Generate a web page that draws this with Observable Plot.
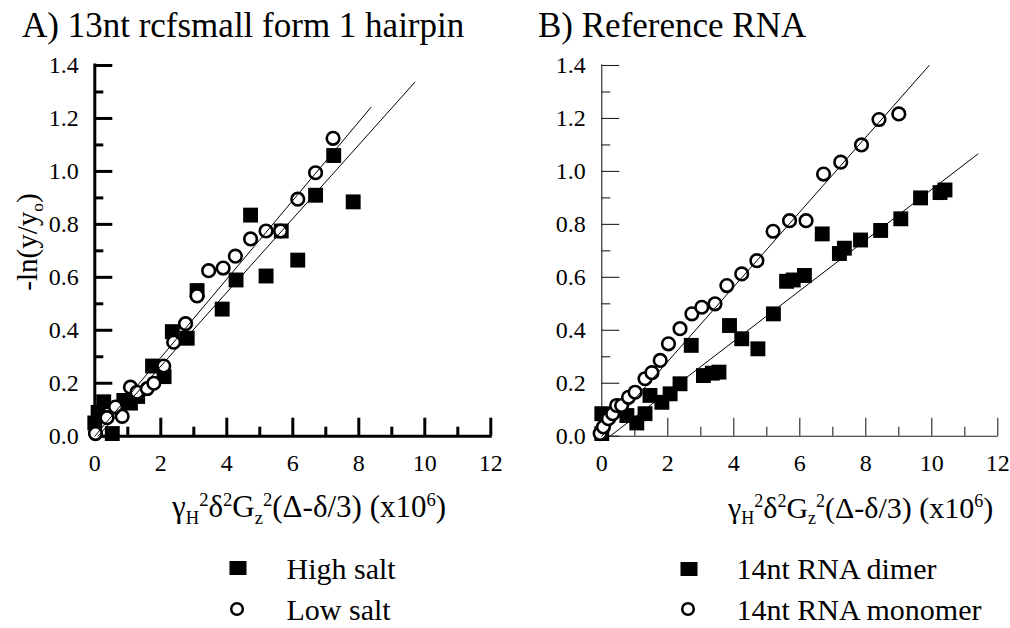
<!DOCTYPE html>
<html><head><meta charset="utf-8">
<script src="https://cdn.jsdelivr.net/npm/d3@7"></script>
<script src="https://cdn.jsdelivr.net/npm/@observablehq/plot@0.6"></script>
<style>
body{margin:0;background:#fff;}
#wrap{position:relative;width:1010px;height:628px;font-family:"Liberation Serif","Times New Roman",serif;color:#000;overflow:hidden;background:#fff}
.abs{position:absolute;white-space:nowrap;line-height:1}
.sup,.sub{position:relative;font-size:0.6em;vertical-align:baseline}
.sup{top:-0.62em}
.sub{top:0.35em}
.plot{position:absolute;top:0}
</style></head><body><div id="wrap"></div>
<script>
// ---- data ----
const xTicks = [0, 2, 4, 6, 8, 10, 12];
const xMinor = [1, 3, 5, 7, 9, 11];
const yTicks = [0, 0.2, 0.4, 0.6, 0.8, 1.0, 1.2, 1.4];
const yMinor = [0.1, 0.3, 0.5, 0.7, 0.9, 1.1, 1.3];

// Panel A: 13nt rcfsmall form 1 hairpin
const highSalt = [[0,0.05],[0.1,0.09],[0.27,0.13],[0.53,0.01],[0.88,0.135],[1.08,0.125],[1.3,0.15],
  [1.75,0.265],[2.1,0.225],[2.35,0.395],[2.8,0.37],[3.1,0.55],[3.86,0.48],[4.28,0.59],[4.72,0.835],
  [5.19,0.605],[5.65,0.775],[6.15,0.665],[6.69,0.91],[7.24,1.06],[7.83,0.885]];
const lowSalt = [[0.02,0.01],[0.37,0.07],[0.63,0.11],[0.83,0.075],[1.08,0.185],[1.28,0.166],[1.59,0.18],
  [1.79,0.2],[2.09,0.265],[2.39,0.355],[2.75,0.425],[3.1,0.53],[3.45,0.625],[3.89,0.635],[4.26,0.68],
  [4.72,0.745],[5.19,0.775],[5.63,0.775],[6.15,0.895],[6.69,0.995],[7.22,1.125]];
const fitLowSaltA = [[0,0],[8.37,1.242]];
const fitHighSaltA = [[0.1,0],[9.7,1.337]];

// Panel B: Reference RNA
const dimer = [[0,0.01],[0,0.085],[0.76,0.078],[1.06,0.05],[1.31,0.085],[1.46,0.154],[1.82,0.128],
  [2.07,0.16],[2.37,0.198],[2.71,0.343],[3.08,0.229],[3.35,0.238],[3.55,0.242],[3.87,0.418],
  [4.24,0.368],[4.73,0.33],[5.2,0.462],[5.6,0.585],[5.8,0.59],[6.14,0.607],[6.68,0.764],
  [7.2,0.69],[7.35,0.71],[7.84,0.741],[8.45,0.777],[9.06,0.821],[9.66,0.9],[10.25,0.92],[10.4,0.93]];
const monomer = [[-0.05,0.01],[0.05,0.035],[0.2,0.066],[0.33,0.085],[0.45,0.116],[0.6,0.116],
  [0.81,0.147],[1.01,0.166],[1.31,0.217],[1.52,0.24],[1.77,0.286],[2.02,0.349],[2.37,0.406],
  [2.73,0.462],[3.03,0.487],[3.43,0.5],[3.79,0.569],[4.24,0.613],[4.7,0.663],[5.19,0.774],
  [5.69,0.814],[6.19,0.814],[6.72,0.99],[7.24,1.035],[7.87,1.1],[8.4,1.196],[9.0,1.217]];
const fitMonomerB = [[0,0],[9.92,1.4]];
const fitDimerB = [[0.25,0],[11.4,1.066]];

const wrap = document.getElementById("wrap");

function panel({left, squares, circles, fits, thick}) {
  const W = 505, H = 480, mL = 94.3, mT = 65, frameW = 396, frameH = 370.7;
  const sw = thick ? 3 : 1.1, col = thick ? "#000" : "#222";
  const font = {fontFamily: "Liberation Serif", fontSize: 24, fill: "#000"};
  const svg = Plot.plot({
    width: W, height: H,
    marginLeft: mL, marginRight: W - mL - frameW, marginTop: mT, marginBottom: H - mT - frameH,
    x: {domain: [0, 12]}, y: {domain: [0, 1.4]},
    style: {fontFamily: "Liberation Serif", fontSize: "24px", color: "#000", background: "transparent", overflow: "visible"},
    marks: [
      Plot.ruleX([0], {stroke: col, strokeWidth: sw, strokeLinecap: "square"}),
      Plot.ruleY([0], {stroke: col, strokeWidth: sw, strokeLinecap: "square"}),
      Plot.tickX(xTicks, {x: d => d, insetTop: frameH - 18, stroke: col, strokeWidth: sw}),
      Plot.tickX(xMinor, {x: d => d, insetTop: frameH - 9, stroke: col, strokeWidth: sw}),
      Plot.tickY(yTicks, {y: d => d, insetRight: frameW - 18, stroke: col, strokeWidth: sw}),
      Plot.tickY(yMinor, {y: d => d, insetRight: frameW - 9, stroke: col, strokeWidth: sw}),
      Plot.axisX(xTicks, {tickSize: 0, tickPadding: 18, tickFormat: d => d, label: null, ...font}),
      Plot.axisY(yTicks, {tickSize: 0, tickPadding: 16, tickFormat: d3.format(".1f"), label: null, ...font}),
      Plot.dot(squares, {x: d => d[0], y: d => d[1], symbol: "square", r: 8.4, fill: "#000", stroke: "none"}),
      Plot.dot(circles, {x: d => d[0], y: d => d[1], r: 6.3, fill: "#fff", stroke: "#000", strokeWidth: 2.6}),
      ...fits.map(f => Plot.line(f, {x: d => d[0], y: d => d[1], stroke: "#000", strokeWidth: 1}))
    ]
  });
  svg.classList.add("plot");
  svg.style.left = left + "px";
  wrap.appendChild(svg);
}

panel({left: 0, squares: highSalt, circles: lowSalt, fits: [fitLowSaltA, fitHighSaltA], thick: true});
panel({left: 507.4, squares: dimer, circles: monomer, fits: [fitMonomerB, fitDimerB], thick: false});

// place text by its baseline; lh = line-height in em
function text(html, x, baseline, fs, lh = 1) {
  const d = document.createElement("div");
  d.className = "abs";
  d.style.fontSize = fs + "px";
  d.style.lineHeight = lh;
  d.style.left = x + "px";
  d.style.top = (baseline - fs * (lh / 2 + 0.3375)) + "px";
  d.innerHTML = html;
  wrap.appendChild(d);
  return d;
}

text("A) 13nt rcfsmall form 1 hairpin", 22, 37, 35);
text("B) Reference RNA", 538, 37, 35);

const xTitle = 'γ<span class="sub">H</span><span class="sup">2</span>δ<span class="sup">2</span>G<span class="sub">z</span><span class="sup">2</span>(Δ-δ/3) (x10<span class="sup">6</span>)';
text(xTitle, 172, 518, 31, 0.85);
text(xTitle, 728, 518, 30, 0.85);

// y-axis label (rotated)
const yl = document.createElement("div");
yl.className = "abs";
yl.style.cssText += "font-size:29px;left:27px;top:242px;transform:translate(-50%,-50%) rotate(-90deg);";
yl.innerHTML = '-ln(y/y<span class="sub">o</span>)';
wrap.appendChild(yl);

// legends
function legend(x, y, kind, label, tx, baseline) {
  const s = document.createElementNS("http://www.w3.org/2000/svg", "svg");
  s.setAttribute("width", 22); s.setAttribute("height", 22);
  s.style.cssText = `position:absolute;left:${x - 11}px;top:${y - 11}px`;
  s.innerHTML = kind === "square"
    ? '<rect x="2.5" y="4" width="17" height="14" fill="#000"/>'
    : '<circle cx="11" cy="11" r="5.8" fill="#fff" stroke="#000" stroke-width="2.5"/>';
  wrap.appendChild(s);
  text(label, tx, baseline, 30, 0.8);
}
legend(237.5, 568, "square", "High salt", 286.5, 579);
legend(237, 609, "circle", "Low salt", 286.5, 620);
legend(689, 569, "square", "14nt RNA dimer", 736.5, 579);
legend(688, 609, "circle", "14nt RNA monomer", 736.5, 620);
</script></body></html>
